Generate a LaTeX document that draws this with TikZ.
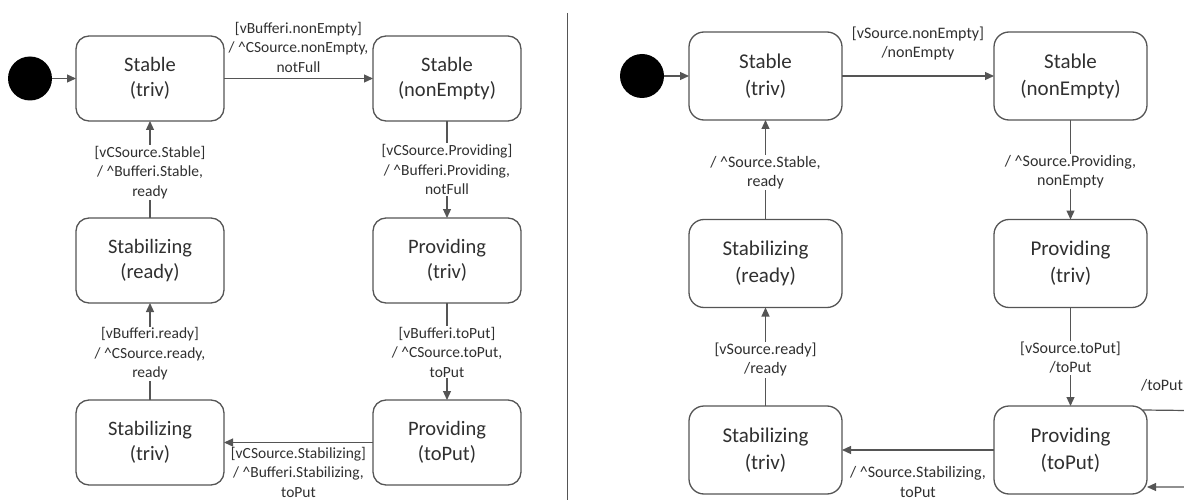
\documentclass[tikz,border=0pt]{standalone}
\usepackage{fontspec}
\setmainfont{Carlito}
\usetikzlibrary{arrows.meta}
\definecolor{linegray}{RGB}{85,85,85}
\definecolor{textgray}{RGB}{48,48,48}
\begin{document}
\begin{tikzpicture}[x=1pt,y=-1pt,
  state/.style={draw=linegray, line width=1.3pt, rounded corners=13pt,
    minimum width=148pt, minimum height=85pt, align=center, text=textgray,
    font=\fontsize{20.5}{25}\selectfont, inner sep=0pt, outer sep=0pt},
  stateR/.style={state, minimum width=153pt, minimum height=88pt,
    rounded corners=15pt, font=\fontsize{21}{27}\selectfont},
  initdot/.style={circle, fill=black, minimum size=44pt, inner sep=0pt, outer sep=0pt},
  trans/.style={draw=linegray, line width=1.2pt, -{Triangle[length=9pt,width=8pt]}},
  lbl/.style={fill=white, align=center, text=textgray,
    font=\fontsize{15.5}{19.5}\selectfont, inner sep=1pt},
  lblh/.style={lbl, fill=none},
  lblR/.style={lbl, font=\fontsize{16}{19.5}\selectfont},
  lblRh/.style={lblR, fill=none},
]
\useasboundingbox (0,0) rectangle (1184,500);
\clip (0,0) rectangle (1184,500);

% ---------- left machine ----------
\node[initdot] (a0) at (30,78.5) {};
\node[state] (aST) at (150,78.5) {Stable\\(triv)};
\node[state] (aSN) at (447,78.5) {Stable\\(nonEmpty)};
\node[state] (aZR) at (150,260.5) {Stabilizing\\(ready)};
\node[state] (aPT) at (447,260.5) {Providing\\(triv)};
\node[state] (aZT) at (150,442.5) {Stabilizing\\(triv)};
\node[state] (aPP) at (447,442.5) {Providing\\(toPut)};

\draw[trans] (a0) -- (aST);
\draw[trans] (aST) -- node[lblh, midway, yshift=31.5pt]
  {[vBufferi.nonEmpty]\\/ \textasciicircum CSource.nonEmpty,\\notFull} (aSN);
\draw[trans] (aSN) -- node[lbl, pos=0.5]
  {[vCSource.Providing]\\/ \textasciicircum Bufferi.Providing,\\notFull} (aPT);
\draw[trans] (aPT) -- node[lbl, pos=0.505]
  {[vBufferi.toPut]\\/ \textasciicircum CSource.toPut,\\toPut} (aPP);
\draw[trans] (aPP) -- node[lblh, midway, yshift=-29.5pt]
  {[vCSource.Stabilizing]\\/ \textasciicircum Bufferi.Stabilizing,\\toPut} (aZT);
\draw[trans] (aZT) -- node[lbl, pos=0.474]
  {[vBufferi.ready]\\/ \textasciicircum CSource.ready,\\ready} (aZR);
\draw[trans] (aZR) -- node[lbl, pos=0.47]
  {[vCSource.Stable]\\/ \textasciicircum Bufferi.Stable,\\ready} (aST);

% ---------- separator ----------
\coordinate (divTop) at (567,13);
\coordinate (divBot) at (567,500);
\draw[linegray, line width=1pt] (divTop) -- (divBot);

% ---------- right machine ----------
\node[initdot] (b0) at (642,76) {};
\node[stateR] (bST) at (765.5,76) {Stable\\(triv)};
\node[stateR] (bSN) at (1070.5,76) {Stable\\(nonEmpty)};
\node[stateR] (bZR) at (765.5,263.5) {Stabilizing\\(ready)};
\node[stateR] (bPT) at (1070.5,263.5) {Providing\\(triv)};
\node[stateR] (bZT) at (765.5,450) {Stabilizing\\(triv)};
\node[stateR] (bPP) at (1070.5,450) {Providing\\(toPut)};

\draw[trans] (b0) -- (bST);
\draw[trans] (bST) -- node[lblRh, midway, yshift=32.5pt]
  {[vSource.nonEmpty]\\/nonEmpty} (bSN);
\draw[trans] (bSN) -- node[lblR, pos=0.52]
  {/ \textasciicircum Source.Providing,\\nonEmpty} (bPT);
\draw[trans] (bPT) -- node[lblR, pos=0.51]
  {[vSource.toPut]\\/toPut} (bPP);
\draw[trans] (bPP) -- node[lblRh, midway, yshift=-32pt]
  {/ \textasciicircum Source.Stabilizing,\\toPut} (bZT);
\draw[trans] (bZT) -- node[lblR, pos=0.47]
  {[vSource.ready]\\/ready} (bZR);
\draw[trans] (bZR) -- node[lblR, pos=0.47]
  {/ \textasciicircum Source.Stable,\\ready} (bST);

% self transition on Providing(toPut), running off the right edge
\coordinate (loopA) at (1230,411);
\coordinate (loopB) at (1230,487);
\draw[trans] ([xshift=-4pt,yshift=-4pt]bPP.north east)
  -- node[lblRh, at start, anchor=west, yshift=25pt, xshift=-2.5pt, inner sep=0pt] {/toPut} (loopA)
  -- (loopB) -- (bPP.east |- loopB);
\end{tikzpicture}
\end{document}
